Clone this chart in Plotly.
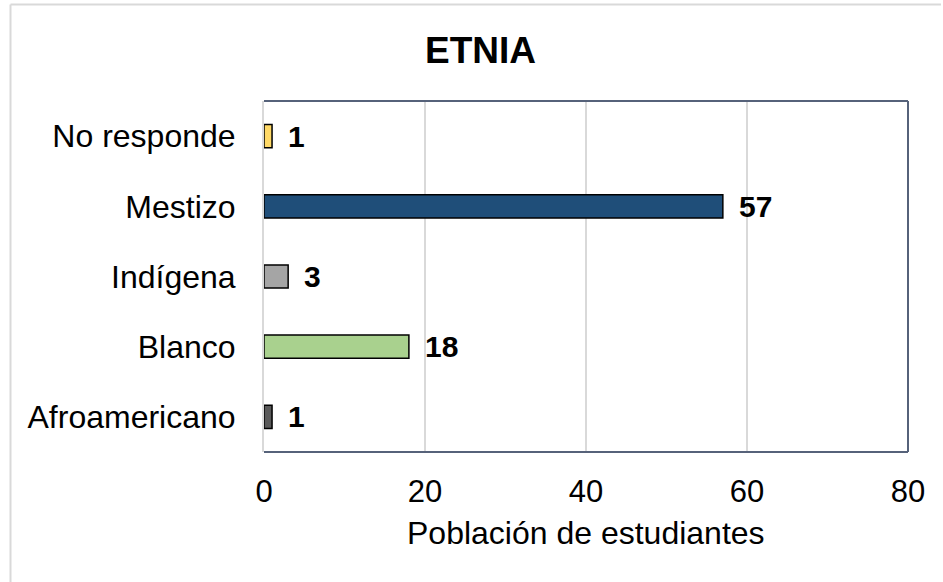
import plotly.graph_objects as go

categories = ["Afroamericano", "Blanco", "Indígena", "Mestizo", "No responde"]
values = [1, 18, 3, 57, 1]
colors = ["#595959", "#A9D18E", "#A5A5A5", "#1F4E79", "#FFD966"]
x_ticks = [0, 20, 40, 60, 80]
title_text = "ETNIA"
x_title = "Población de estudiantes"

FONT = "Liberation Sans, Arial, sans-serif"

W, H = 943, 582
L, R, T, B = 264, 35, 101, 130
pw, ph = W - L - R, H - T - B


def px(x):
    return (x - L) / pw


def py(y):
    return (H - B - y) / ph


fig = go.Figure()
fig.add_trace(go.Bar(
    y=categories, x=values, orientation="h",
    marker=dict(color=colors, line=dict(color="#000000", width=1.5)),
    width=0.33, hoverinfo="skip",
))

for c, v in zip(categories, values):
    fig.add_annotation(x=v, y=c, xref="x", yref="y", text=f"<b>{v}</b>",
                       showarrow=False, xanchor="left", yanchor="middle",
                       xshift=14, font=dict(family=FONT, size=30, color="#000000"))

fig.add_annotation(x=px(480), y=py(50), xref="paper", yref="paper",
                   text=f"<b>{title_text}</b>", showarrow=False,
                   xanchor="center", yanchor="middle",
                   font=dict(family=FONT, size=37, color="#000000"))

fig.add_annotation(x=0.5, y=py(533), xref="paper", yref="paper",
                   text=x_title, showarrow=False,
                   xanchor="center", yanchor="middle",
                   font=dict(family=FONT, size=32, color="#000000"))

# plot area border (top, right, bottom)
border = "#56627A"
fig.add_shape(type="line", xref="paper", yref="paper", x0=0, x1=1, y0=1, y1=1,
              line=dict(color=border, width=2))
fig.add_shape(type="line", xref="paper", yref="paper", x0=1, x1=1, y0=0, y1=1,
              line=dict(color=border, width=2))
fig.add_shape(type="line", xref="paper", yref="paper", x0=0, x1=1, y0=0, y1=0,
              line=dict(color=border, width=2))

# outer chart frame
frame = "#D9D9D9"
fig.add_shape(type="line", xref="paper", yref="paper", x0=px(10.5), x1=px(941),
              y0=py(4.5), y1=py(4.5), line=dict(color=frame, width=2))
fig.add_shape(type="line", xref="paper", yref="paper", x0=px(10.5), x1=px(10.5),
              y0=py(4.5), y1=py(600), line=dict(color=frame, width=2))

fig.update_layout(
    width=W, height=H,
    margin=dict(l=L, r=R, t=T, b=B),
    paper_bgcolor="white", plot_bgcolor="white",
    showlegend=False,
    font=dict(family=FONT, color="#000000"),
    xaxis=dict(range=[0, 80], tickvals=x_ticks, ticks="", showgrid=True,
               gridcolor="#D9D9D9", gridwidth=1.5, zeroline=False, showline=False,
               tickfont=dict(family=FONT, size=31, color="#000000"),
               ticklabelstandoff=18, fixedrange=True),
    yaxis=dict(categoryorder="array", categoryarray=categories, ticks="",
               showgrid=False, zeroline=False, showline=True,
               linecolor="#D9D9D9", linewidth=2,
               tickfont=dict(family=FONT, size=32, color="#000000"),
               ticklabelstandoff=20, fixedrange=True),
)

fig.write_html(
    "out.html",
    config={"displayModeBar": False},
    post_script="document.body.style.margin='0';document.body.style.overflow='hidden';",
)
